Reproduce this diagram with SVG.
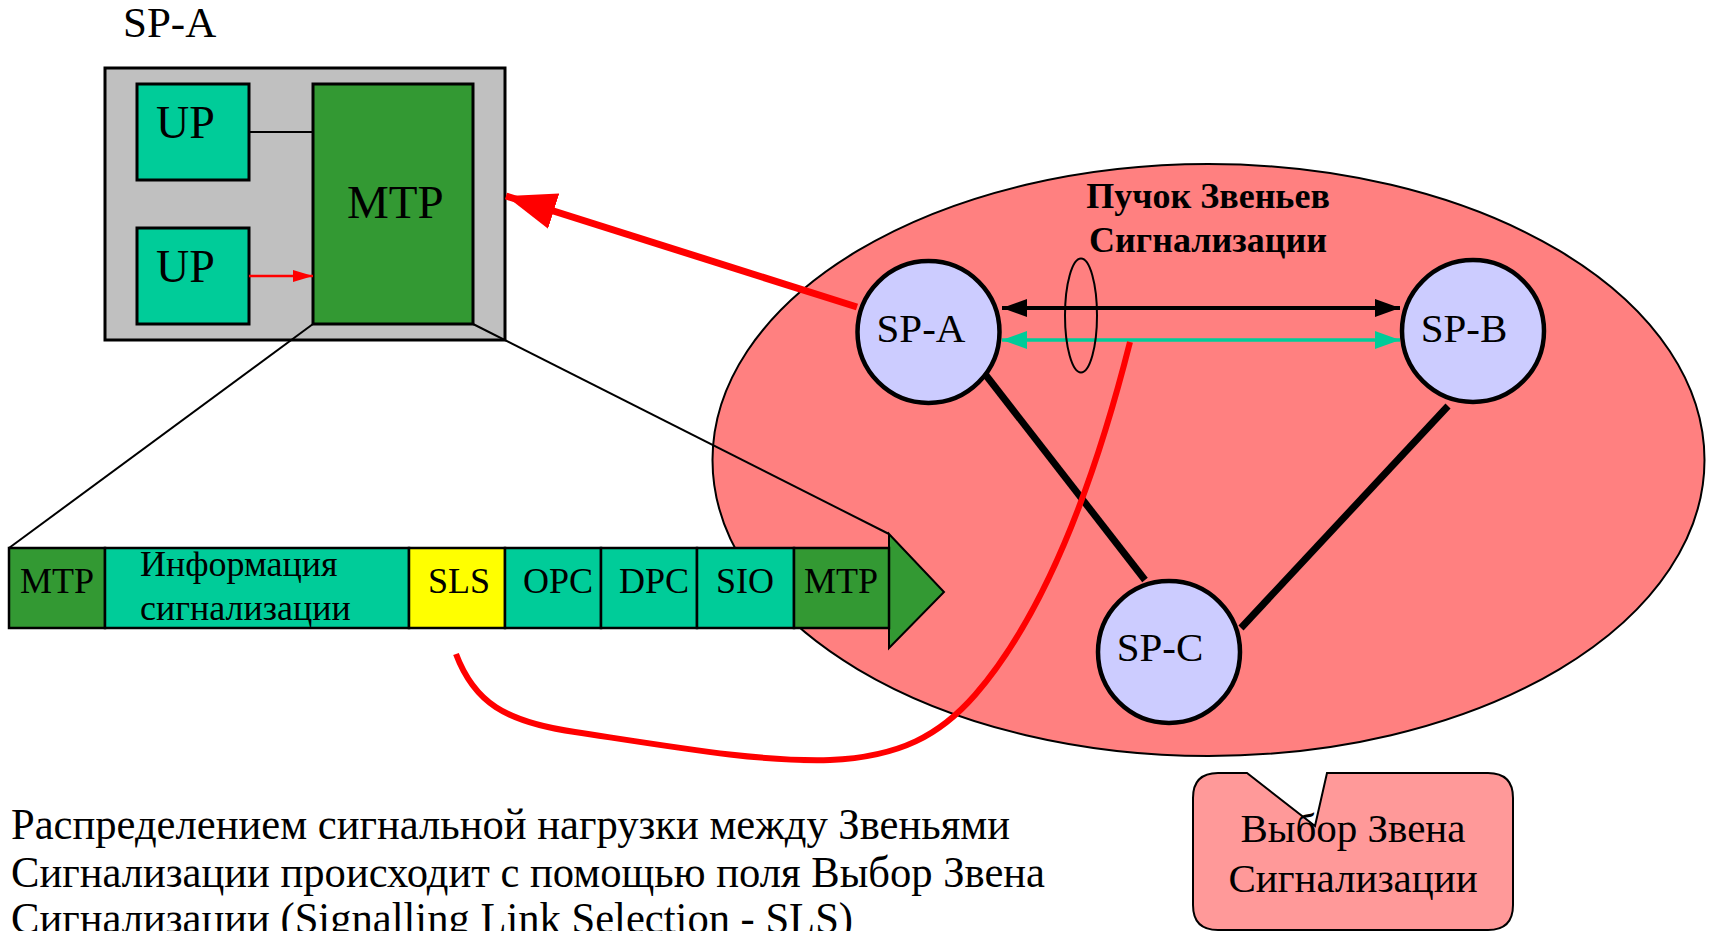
<svg xmlns="http://www.w3.org/2000/svg" width="1710" height="931" viewBox="0 0 1710 931">
  <defs>
    <style>
      text { font-family: "Liberation Serif", "Times New Roman", serif; fill: #000; }
      .box { stroke: #000; stroke-width: 3; }
      .cell { stroke: #000; stroke-width: 2.5; }
      .up { fill: #00CC99; }
      .mtp { fill: #339933; }
      .sp { fill: #CCCCFF; stroke: #000; stroke-width: 4.5; }
      .lbl41 { font-size: 41px; }
      .lbl46 { font-size: 46px; }
      .fld { font-size: 36px; }
      .thin { stroke: #000; stroke-width: 2; fill: none; }
      .red { stroke: #FF0000; fill: none; }
    </style>
    <marker id="redHead" viewBox="0 0 50 37" refX="50" refY="18.5" markerWidth="50" markerHeight="37" markerUnits="userSpaceOnUse" orient="auto">
      <path d="M0,0 L50,18.5 L0,37 Z" fill="#FF0000"/>
    </marker>
    <marker id="redSmall" viewBox="0 0 20 12" refX="20" refY="6" markerWidth="20" markerHeight="12" markerUnits="userSpaceOnUse" orient="auto">
      <path d="M0,0 L20,6 L0,12 Z" fill="#FF0000"/>
    </marker>
    <marker id="blkHead" viewBox="0 0 25 18" refX="25" refY="9" markerWidth="25" markerHeight="18" markerUnits="userSpaceOnUse" orient="auto-start-reverse">
      <path d="M0,0 L25,9 L0,18 Z" fill="#000"/>
    </marker>
    <marker id="grnHead" viewBox="0 0 25 18" refX="25" refY="9" markerWidth="25" markerHeight="18" markerUnits="userSpaceOnUse" orient="auto-start-reverse">
      <path d="M0,0 L25,9 L0,18 Z" fill="#00CC99"/>
    </marker>
  </defs>

  <!-- network cloud -->
  <g id="network">
    <ellipse cx="1208.5" cy="460" rx="496" ry="296" fill="#FF8080" stroke="#000" stroke-width="2"/>
    <text x="1208" y="208" font-size="36" font-weight="bold" text-anchor="middle">Пучок Звеньев</text>
    <text x="1208" y="252" font-size="36" font-weight="bold" text-anchor="middle">Сигнализации</text>
  </g>

  <!-- signalling point A stack -->
  <g id="sp-a-stack">
    <text x="123" y="37" font-size="43">SP-A</text>
    <rect x="105" y="68" width="400" height="272" fill="#C0C0C0" class="box"/>
  </g>
  <g id="up1">
    <rect x="137" y="84" width="112" height="96" class="up box"/>
    <text x="156" y="138" class="lbl46">UP</text>
  </g>
  <g id="up2">
    <rect x="137" y="228" width="112" height="96" class="up box"/>
    <text x="156" y="282" class="lbl46">UP</text>
  </g>
  <g id="mtp">
    <rect x="313" y="84" width="160" height="240" class="mtp box"/>
    <text x="347" y="218" font-size="47">MTP</text>
  </g>

  <!-- message signal unit -->
  <g id="msu">
    <path d="M889,534 L944,592 L889,648 Z" class="mtp" stroke="#000" stroke-width="2"/>
    <rect x="9" y="548" width="96" height="80" class="mtp cell"/>
    <rect x="105" y="548" width="304" height="80" class="up cell"/>
    <rect x="409" y="548" width="96" height="80" fill="#FFFF00" class="cell"/>
    <rect x="505" y="548" width="96" height="80" class="up cell"/>
    <rect x="601" y="548" width="96" height="80" class="up cell"/>
    <rect x="697" y="548" width="97" height="80" class="up cell"/>
    <rect x="794" y="548" width="95" height="80" class="mtp cell"/>
    <text x="57" y="593" class="fld" text-anchor="middle">MTP</text>
    <text x="140" y="576" class="fld">Информация</text>
    <text x="140" y="620" class="fld">сигнализации</text>
    <text x="459" y="593" class="fld" text-anchor="middle">SLS</text>
    <text x="558" y="593" class="fld" text-anchor="middle">OPC</text>
    <text x="654" y="593" class="fld" text-anchor="middle">DPC</text>
    <text x="745" y="593" class="fld" text-anchor="middle">SIO</text>
    <text x="841" y="593" class="fld" text-anchor="middle">MTP</text>
  </g>

  <!-- connectors -->
  <g id="connectors">
    <line x1="249" y1="132" x2="313" y2="132" class="thin"/>
    <line x1="249" y1="276" x2="313" y2="276" class="red" stroke-width="2.5" marker-end="url(#redSmall)"/>
    <line x1="313" y1="324" x2="9" y2="548" class="thin" stroke-width="1.5"/>
    <line x1="473" y1="324" x2="889" y2="534" class="thin" stroke-width="1.5"/>
    <line x1="985" y1="374" x2="1145" y2="580" stroke="#000" stroke-width="7"/>
    <line x1="1448" y1="406" x2="1241" y2="628" stroke="#000" stroke-width="7"/>
    <line x1="1002" y1="308" x2="1400" y2="308" stroke="#000" stroke-width="4" marker-start="url(#blkHead)" marker-end="url(#blkHead)"/>
    <line x1="1002" y1="340" x2="1400" y2="340" stroke="#00CC99" stroke-width="3.5" marker-start="url(#grnHead)" marker-end="url(#grnHead)"/>
    <ellipse cx="1081" cy="315.5" rx="16" ry="57" class="thin"/>
    <line x1="857" y1="307" x2="506" y2="196" class="red" stroke-width="7" marker-end="url(#redHead)"/>
    <path d="M456,654 C474,702 505,722 575,732 C680,748 760,762 830,760 C900,757 940,735 975,695 C1040,620 1090,500 1130,342" class="red" stroke-width="6"/>
  </g>

  <!-- signalling points -->
  <g id="sp-a">
    <circle cx="928.5" cy="332" r="71" class="sp"/>
    <text x="921" y="342" class="lbl41" text-anchor="middle">SP-A</text>
  </g>
  <g id="sp-b">
    <circle cx="1473" cy="331" r="71" class="sp"/>
    <text x="1464" y="342" class="lbl41" text-anchor="middle">SP-B</text>
  </g>
  <g id="sp-c">
    <circle cx="1169" cy="652" r="71" class="sp"/>
    <text x="1160" y="661" class="lbl41" text-anchor="middle">SP-C</text>
  </g>

  <!-- callout -->
  <g id="callout">
    <path d="M1218,773 L1247,773 L1315,826 L1327,773 L1488,773 Q1513,773 1513,798 L1513,905 Q1513,930 1488,930 L1218,930 Q1193,930 1193,905 L1193,798 Q1193,773 1218,773 Z" fill="#FF9999" stroke="#000" stroke-width="2"/>
    <text x="1353" y="842" class="lbl41" text-anchor="middle">Выбор Звена</text>
    <text x="1353" y="892" class="lbl41" text-anchor="middle">Сигнализации</text>
  </g>

  <!-- description -->
  <g id="description" font-size="44">
    <text x="11" y="839" textLength="999" lengthAdjust="spacingAndGlyphs">Распределением сигнальной нагрузки между Звеньями</text>
    <text x="11" y="887" textLength="1034" lengthAdjust="spacingAndGlyphs">Сигнализации происходит с помощью поля Выбор Звена</text>
    <text x="11" y="933" textLength="842" lengthAdjust="spacingAndGlyphs">Сигнализации (Signalling Link Selection - SLS)</text>
  </g>
</svg>
